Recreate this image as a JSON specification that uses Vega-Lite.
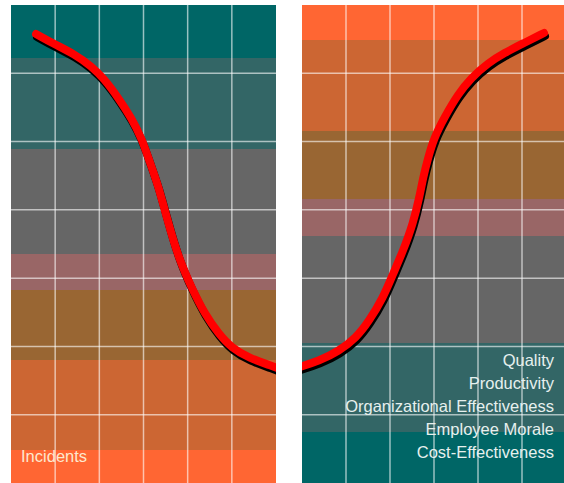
{
  "$schema": "https://vega.github.io/schema/vega-lite/v6.json",
  "background": "white",
  "padding": {"left": 10, "top": 4, "right": 0, "bottom": 0},
  "spacing": 26,
  "bounds": "flush",
  "config": {"view": {"stroke": null}},
  "datasets": {
    "leftBands": [
      {"band": "teal", "lo": 6.224, "hi": 7.0},
      {"band": "slate", "lo": 4.891, "hi": 6.224},
      {"band": "gray", "lo": 3.353, "hi": 4.891},
      {"band": "mauve", "lo": 2.826, "hi": 3.353},
      {"band": "brown", "lo": 1.801, "hi": 2.826},
      {"band": "orange", "lo": 0.483, "hi": 1.801},
      {"band": "bright", "lo": 0.0, "hi": 0.483}
    ],
    "rightBands": [
      {"band": "bright", "lo": 6.487, "hi": 7.0},
      {"band": "orange", "lo": 5.155, "hi": 6.487},
      {"band": "brown", "lo": 4.159, "hi": 5.155},
      {"band": "mauve", "lo": 3.617, "hi": 4.159},
      {"band": "gray", "lo": 2.05, "hi": 3.617},
      {"band": "slate", "lo": 0.747, "hi": 2.05},
      {"band": "teal", "lo": 0.0, "hi": 0.747}
    ],
    "leftCurve": [
      {"t": 0.568, "v": 6.575},
      {"t": 0.977, "v": 6.428},
      {"t": 1.432, "v": 6.282},
      {"t": 1.818, "v": 6.106},
      {"t": 2.114, "v": 5.916},
      {"t": 2.432, "v": 5.638},
      {"t": 2.727, "v": 5.345},
      {"t": 2.955, "v": 5.052},
      {"t": 3.136, "v": 4.714},
      {"t": 3.295, "v": 4.421},
      {"t": 3.409, "v": 4.173},
      {"t": 3.568, "v": 3.793},
      {"t": 3.795, "v": 3.295},
      {"t": 4.091, "v": 2.855},
      {"t": 4.386, "v": 2.475},
      {"t": 4.705, "v": 2.182},
      {"t": 5.0, "v": 1.977},
      {"t": 5.386, "v": 1.83},
      {"t": 5.909, "v": 1.713},
      {"t": 6.05, "v": 1.68}
    ],
    "rightCurve": [
      {"t": -0.05, "v": 1.7},
      {"t": 0.386, "v": 1.787},
      {"t": 0.841, "v": 1.933},
      {"t": 1.227, "v": 2.123},
      {"t": 1.523, "v": 2.372},
      {"t": 1.841, "v": 2.709},
      {"t": 2.068, "v": 3.06},
      {"t": 2.295, "v": 3.397},
      {"t": 2.523, "v": 3.793},
      {"t": 2.68, "v": 4.22},
      {"t": 2.75, "v": 4.466},
      {"t": 2.864, "v": 4.759},
      {"t": 3.0, "v": 5.052},
      {"t": 3.227, "v": 5.345},
      {"t": 3.545, "v": 5.696},
      {"t": 3.841, "v": 5.931},
      {"t": 4.227, "v": 6.15},
      {"t": 4.591, "v": 6.297},
      {"t": 5.045, "v": 6.443},
      {"t": 5.5, "v": 6.59}
    ],
    "vgrid": [{"g": 1}, {"g": 2}, {"g": 3}, {"g": 4}, {"g": 5}],
    "hgrid": [{"g": 1}, {"g": 2}, {"g": 3}, {"g": 4}, {"g": 5}, {"g": 6}]
  },
  "hconcat": [
    {
      "width": 265,
      "height": 478,
      "layer": [
        {
          "data": {"name": "leftBands"},
          "mark": {"type": "rect"},
          "encoding": {
            "x": {"datum": 0, "type": "quantitative", "scale": {"domain": [0, 6], "nice": false, "zero": false}, "axis": null},
            "x2": {"datum": 6},
            "y": {"field": "lo", "type": "quantitative", "scale": {"domain": [0, 7], "nice": false, "zero": false}, "axis": null},
            "y2": {"field": "hi"},
            "fill": {"field": "band", "type": "nominal", "legend": null,
              "scale": {"domain": ["teal", "slate", "gray", "mauve", "brown", "orange", "bright"],
                        "range": ["#006666", "#336666", "#666666", "#996666", "#996633", "#cc6633", "#ff6633"]}}
          }
        },
        {
          "data": {"name": "vgrid"},
          "mark": {"type": "rule", "color": "white", "opacity": 0.6, "strokeWidth": 1.5},
          "encoding": {"x": {"field": "g", "type": "quantitative"}}
        },
        {
          "data": {"name": "hgrid"},
          "mark": {"type": "rule", "color": "white", "opacity": 0.6, "strokeWidth": 1.5},
          "encoding": {"y": {"field": "g", "type": "quantitative"}}
        },
        {
          "data": {"name": "leftCurve"},
          "mark": {"type": "line", "color": "black", "strokeWidth": 8, "strokeCap": "round", "interpolate": "basis", "yOffset": 3, "xOffset": 1, "clip": true},
          "encoding": {"x": {"field": "t", "type": "quantitative"}, "y": {"field": "v", "type": "quantitative"}}
        },
        {
          "data": {"name": "leftCurve"},
          "mark": {"type": "line", "color": "#ff0000", "strokeWidth": 8, "strokeCap": "round", "interpolate": "basis", "clip": true},
          "encoding": {"x": {"field": "t", "type": "quantitative"}, "y": {"field": "v", "type": "quantitative"}}
        },
        {
          "data": {"values": [{"label": "Incidents"}]},
          "mark": {"type": "text", "align": "left", "baseline": "alphabetic", "font": "Liberation Sans, Arial, sans-serif", "fontSize": 16.5, "color": "#fde8cf"},
          "encoding": {
            "x": {"datum": 0.227, "type": "quantitative"},
            "y": {"datum": 0.307, "type": "quantitative"},
            "text": {"field": "label"}
          }
        }
      ]
    },
    {
      "width": 264,
      "height": 478,
      "layer": [
        {
          "data": {"name": "rightBands"},
          "mark": {"type": "rect"},
          "encoding": {
            "x": {"datum": 0, "type": "quantitative", "scale": {"domain": [0, 6], "nice": false, "zero": false}, "axis": null},
            "x2": {"datum": 6},
            "y": {"field": "lo", "type": "quantitative", "scale": {"domain": [0, 7], "nice": false, "zero": false}, "axis": null},
            "y2": {"field": "hi"},
            "fill": {"field": "band", "type": "nominal", "legend": null,
              "scale": {"domain": ["teal", "slate", "gray", "mauve", "brown", "orange", "bright"],
                        "range": ["#006666", "#336666", "#666666", "#996666", "#996633", "#cc6633", "#ff6633"]}}
          }
        },
        {
          "data": {"name": "vgrid"},
          "mark": {"type": "rule", "color": "white", "opacity": 0.6, "strokeWidth": 1.5},
          "encoding": {"x": {"field": "g", "type": "quantitative"}}
        },
        {
          "data": {"name": "hgrid"},
          "mark": {"type": "rule", "color": "white", "opacity": 0.6, "strokeWidth": 1.5},
          "encoding": {"y": {"field": "g", "type": "quantitative"}}
        },
        {
          "data": {"name": "rightCurve"},
          "mark": {"type": "line", "color": "black", "strokeWidth": 8, "strokeCap": "round", "interpolate": "basis", "yOffset": 3, "xOffset": 1, "clip": true},
          "encoding": {"x": {"field": "t", "type": "quantitative"}, "y": {"field": "v", "type": "quantitative"}}
        },
        {
          "data": {"name": "rightCurve"},
          "mark": {"type": "line", "color": "#ff0000", "strokeWidth": 8, "strokeCap": "round", "interpolate": "basis", "clip": true},
          "encoding": {"x": {"field": "t", "type": "quantitative"}, "y": {"field": "v", "type": "quantitative"}}
        },
        {
          "data": {"values": [{"label": ["Quality", "Productivity", "Organizational Effectiveness", "Employee Morale", "Cost-Effectiveness"]}]},
          "mark": {"type": "text", "align": "right", "baseline": "alphabetic", "lineHeight": 23, "font": "Liberation Sans, Arial, sans-serif", "fontSize": 16.5, "color": "#e6f0ee"},
          "encoding": {
            "x": {"datum": 5.727, "type": "quantitative"},
            "y": {"datum": 1.713, "type": "quantitative"},
            "text": {"field": "label"}
          }
        }
      ]
    }
  ]
}
